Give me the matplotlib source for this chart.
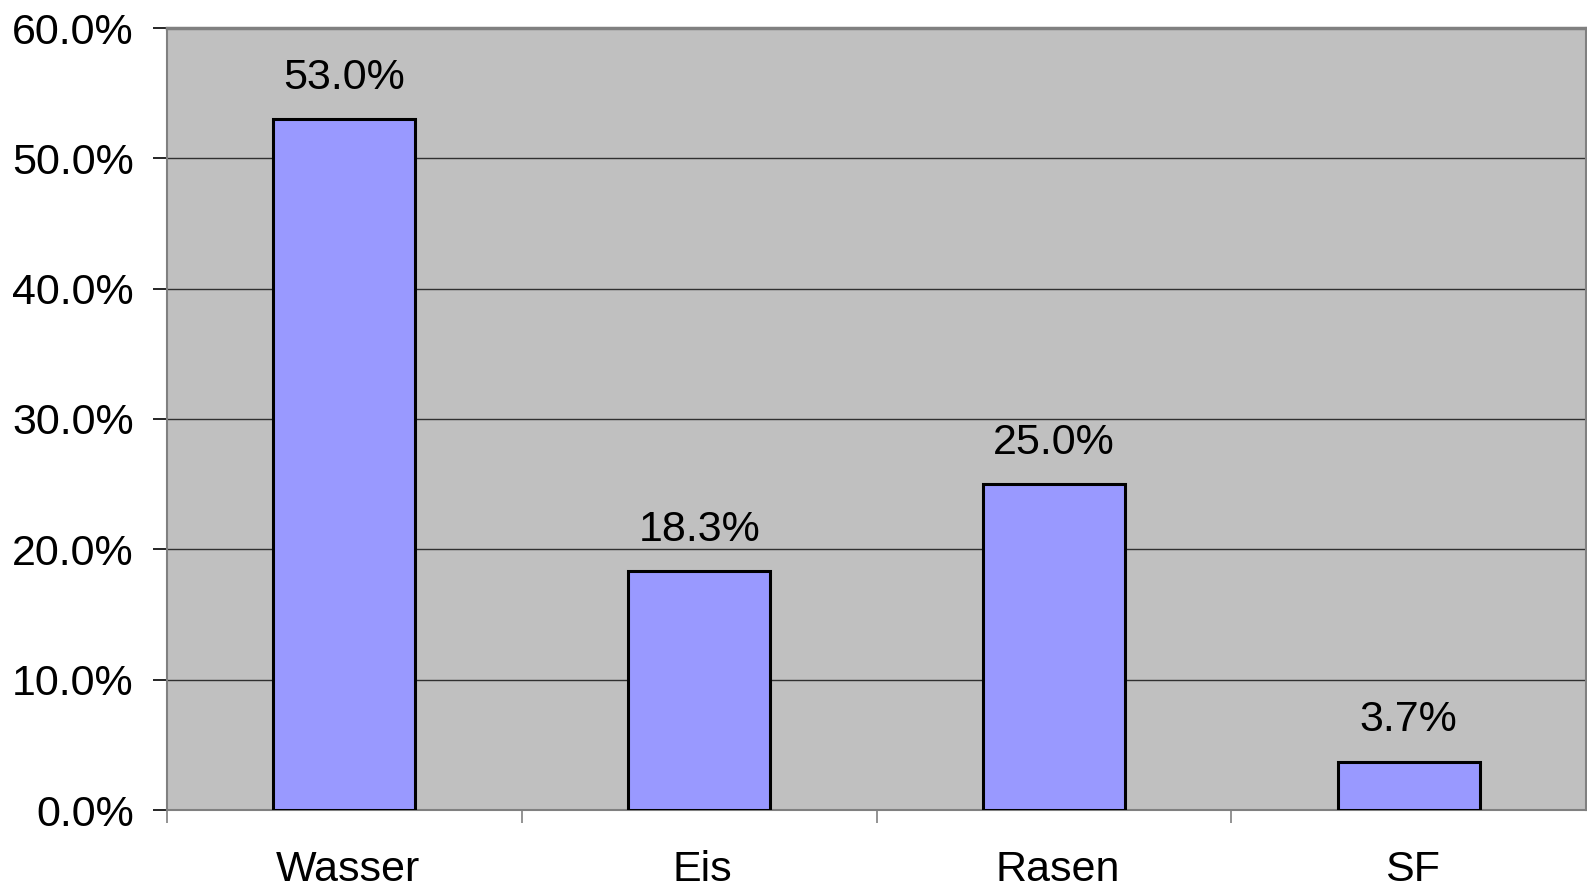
import matplotlib
matplotlib.use("Agg")
import matplotlib.pyplot as plt
from matplotlib.ticker import FixedLocator, PercentFormatter

categories = ["Wasser", "Eis", "Rasen", "SF"]
shares = [53.0, 18.3, 25.0, 3.7]
y_ticks = [0, 10, 20, 30, 40, 50, 60]

plt.rcParams['font.family'] = ['Liberation Sans', 'DejaVu Sans']

W, H, DPI = 1587, 891, 100
fig = plt.figure(figsize=(W / DPI, H / DPI), dpi=DPI)
left, right, top, bottom = 167, 1586, 28, 810
ax = fig.add_axes([left / W, (H - bottom) / H, (right - left) / W, (bottom - top) / H])

ax.set_facecolor('#c0c0c0')
x = range(len(categories))
bars = ax.bar(x, shares, width=0.4, color='#9999ff', edgecolor='black', linewidth=2.2, zorder=3)

for rect, v in zip(bars, shares):
    ax.annotate(f"{v:.1f}%", (rect.get_x() + rect.get_width() / 2, v),
                xytext=(0, 22), textcoords='offset points',
                ha='center', va='baseline', fontsize=31, zorder=4)

ax.set_xlim(-0.5, len(categories) - 0.5)
ax.set_ylim(0, 60)
ax.yaxis.set_major_locator(FixedLocator(y_ticks))
ax.yaxis.set_major_formatter(PercentFormatter(decimals=1))
ax.yaxis.grid(True, color='#303030', linewidth=1.0, zorder=1)
ax.set_axisbelow(True)

# tick marks sit on category boundaries, names sit at the centres
ax.xaxis.set_major_locator(FixedLocator([i - 0.5 for i in range(len(categories))]))
ax.xaxis.set_major_formatter(plt.NullFormatter())
ax.xaxis.set_minor_locator(FixedLocator([i + 0.01 for i in x]))
ax.set_xticklabels(categories, minor=True)
ax.tick_params(axis='x', which='major', length=9, width=1.2, color='#808080', direction='out')
ax.tick_params(axis='x', which='minor', length=0, pad=29, labelsize=31)
ax.tick_params(axis='y', length=10, width=1.2, color='black', pad=14, labelsize=31)

for side in ['left', 'bottom', 'right']:
    ax.spines[side].set_color('#808080')
    ax.spines[side].set_linewidth(1.5)
ax.spines['top'].set_color('#808080')
ax.spines['top'].set_linewidth(2.5)

fig.savefig('out.png', dpi=DPI)
